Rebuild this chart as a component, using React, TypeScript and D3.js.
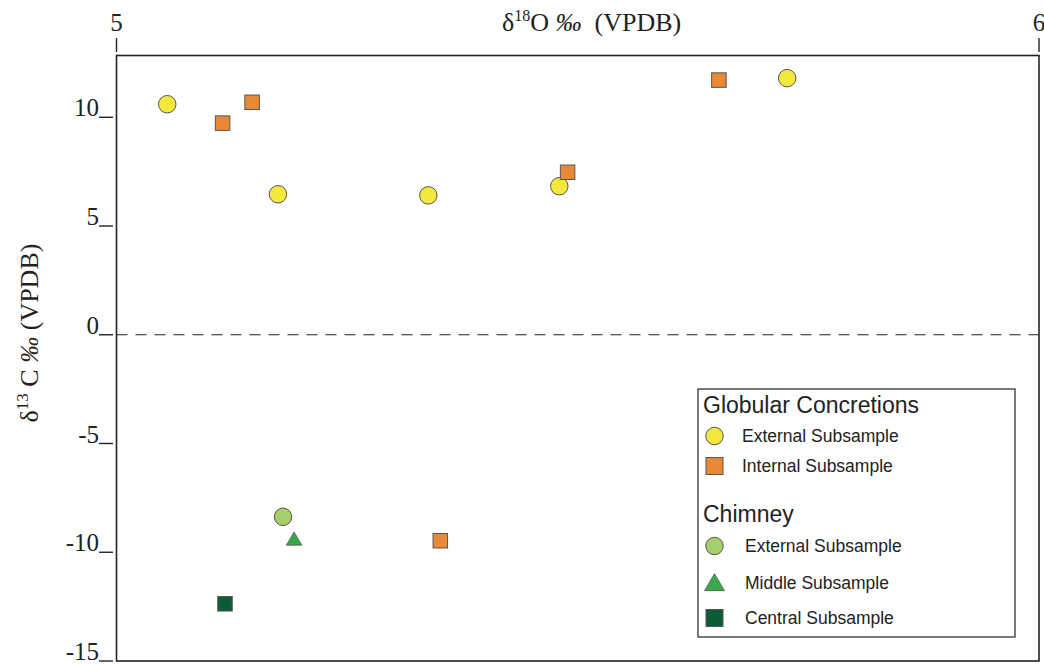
import React from "react";
import * as d3 from "d3";

// δ18O / δ13C isotope values (‰ VPDB)
const globularExternalO = [5.055, 5.175, 5.338, 5.48, 5.727];
const globularExternalC = [10.6, 6.46, 6.41, 6.83, 11.8];
const globularInternalO = [5.115, 5.147, 5.489, 5.653, 5.351];
const globularInternalC = [9.73, 10.69, 7.47, 11.71, -9.47];
const chimneyExternalO = [5.1805];
const chimneyExternalC = [-8.37];
const chimneyMiddleO = [5.1925];
const chimneyMiddleC = [-9.4];
const chimneyCentralO = [5.1176];
const chimneyCentralC = [-12.37];

const xTicks = [5, 6];
const yTicks = [10, 5, 0, -5, -10, -15];

const COLORS = {
  yellow: "#F4E83F",
  orange: "#E98936",
  lightGreen: "#A6CF6C",
  green: "#3AA949",
  darkGreen: "#0C5C38",
};

const W = 1044;
const H = 664;
const left = 116.5;
const right = 1039;
const top = 55.5;
const bottom = 661;

const x = d3.scaleLinear().domain([5, 6]).range([left, right]);
const y = d3.scaleLinear().domain([-15, 12.84]).range([bottom, top]);

const serif = "'Liberation Serif', 'Times New Roman', serif";
const sans = "'Liberation Sans', Arial, sans-serif";

type Shape = "circle" | "square" | "triangle";

function Marker({ shape, cx, cy, fill, size }: { shape: Shape; cx: number; cy: number; fill: string; size: number }) {
  const stroke = "#555";
  if (shape === "circle") {
    return <circle cx={cx} cy={cy} r={size / 2} fill={fill} stroke={stroke} strokeWidth={1} />;
  }
  if (shape === "square") {
    return (
      <rect x={cx - size / 2} y={cy - size / 2} width={size} height={size} fill={fill} stroke={stroke} strokeWidth={1} />
    );
  }
  const w = size;
  const h = size * 0.85;
  const p = `M${cx},${cy - h * 0.55}L${cx + w / 2},${cy + h * 0.45}L${cx - w / 2},${cy + h * 0.45}Z`;
  return <path d={p} fill={fill} stroke={stroke} strokeWidth={0.8} />;
}

const series: { xs: number[]; ys: number[]; shape: Shape; fill: string; size: number }[] = [
  { xs: globularExternalO, ys: globularExternalC, shape: "circle", fill: COLORS.yellow, size: 17.5 },
  { xs: globularInternalO, ys: globularInternalC, shape: "square", fill: COLORS.orange, size: 14.5 },
  { xs: chimneyExternalO, ys: chimneyExternalC, shape: "circle", fill: COLORS.lightGreen, size: 17.5 },
  { xs: chimneyMiddleO, ys: chimneyMiddleC, shape: "triangle", fill: COLORS.green, size: 15.5 },
  { xs: chimneyCentralO, ys: chimneyCentralC, shape: "square", fill: COLORS.darkGreen, size: 14.5 },
];

const legendItems: { label: string; shape: Shape; fill: string; cy: number; tx: number; size: number }[] = [
  { label: "External Subsample", shape: "circle", fill: COLORS.yellow, cy: 436, tx: 742, size: 17.5 },
  { label: "Internal Subsample", shape: "square", fill: COLORS.orange, cy: 466, tx: 742, size: 17 },
  { label: "External Subsample", shape: "circle", fill: COLORS.lightGreen, cy: 546, tx: 745, size: 17.5 },
  { label: "Middle Subsample", shape: "triangle", fill: COLORS.green, cy: 583, tx: 745, size: 20 },
  { label: "Central Subsample", shape: "square", fill: COLORS.darkGreen, cy: 618, tx: 745, size: 17 },
];

export default function App() {
  return (
    <svg width={W} height={H} style={{ position: "absolute", left: 0, top: 0, background: "#fff" }}>
      {/* zero reference line */}
      <line x1={left} x2={right} y1={y(0)} y2={y(0)} stroke="#222" strokeWidth={1.2} strokeDasharray="11 8" />

      {/* frame */}
      <rect x={left} y={top} width={right - left} height={bottom - top} fill="none" stroke="#222" strokeWidth={1.6} />

      {/* top x axis */}
      {xTicks.map((t) => (
        <g key={`x${t}`}>
          <line x1={x(t)} x2={x(t)} y1={38} y2={52} stroke="#222" strokeWidth={1.4} />
          <text x={x(t)} y={31} textAnchor="middle" fontFamily={serif} fontSize={25} fill="#222">
            {t}
          </text>
        </g>
      ))}
      <text x={502} y={31} fontFamily={serif} fontSize={26} fill="#222" style={{ whiteSpace: "pre" }}>
        δ<tspan dy={-10} fontSize={16}>18</tspan>
        <tspan dy={10}>O </tspan>
        <tspan fontStyle="italic">‰</tspan>
        <tspan>{"  (VPDB)"}</tspan>
      </text>

      {/* left y axis */}
      {yTicks.map((t) => (
        <g key={`y${t}`}>
          <line x1={99} x2={113} y1={y(t)} y2={y(t)} stroke="#222" strokeWidth={1.4} />
          <text x={99} y={y(t) - 1} textAnchor="end" fontFamily={serif} fontSize={25} fill="#222">
            {t}
          </text>
        </g>
      ))}
      <text
        transform={`translate(38,333) rotate(-90)`}
        textAnchor="middle"
        fontFamily={serif}
        fontSize={26}
        fill="#222"
        style={{ whiteSpace: "pre" }}
      >
        δ<tspan dy={-10} fontSize={17}>13</tspan>
        <tspan dy={10}> C </tspan>
        <tspan fontStyle="italic">‰</tspan>
        <tspan>{" (VPDB)"}</tspan>
      </text>

      {/* data points */}
      {series.map((s, si) =>
        s.xs.map((v, i) => (
          <Marker key={`${si}-${i}`} shape={s.shape} cx={x(v)} cy={y(s.ys[i])} fill={s.fill} size={s.size} />
        ))
      )}

      {/* legend */}
      <rect x={698} y={389} width={317} height={248} fill="#fff" stroke="#333" strokeWidth={1.3} />
      <text x={703} y={413} fontFamily={sans} fontSize={23} fill="#222">
        Globular Concretions
      </text>
      <text x={703} y={522} fontFamily={sans} fontSize={23} fill="#222">
        Chimney
      </text>
      {legendItems.map((it, i) => (
        <g key={`l${i}`}>
          <Marker shape={it.shape} cx={714.5} cy={it.cy} fill={it.fill} size={it.size} />
          <text x={it.tx} y={it.cy + 6} fontFamily={sans} fontSize={17.5} fill="#222">
            {it.label}
          </text>
        </g>
      ))}
    </svg>
  );
}
